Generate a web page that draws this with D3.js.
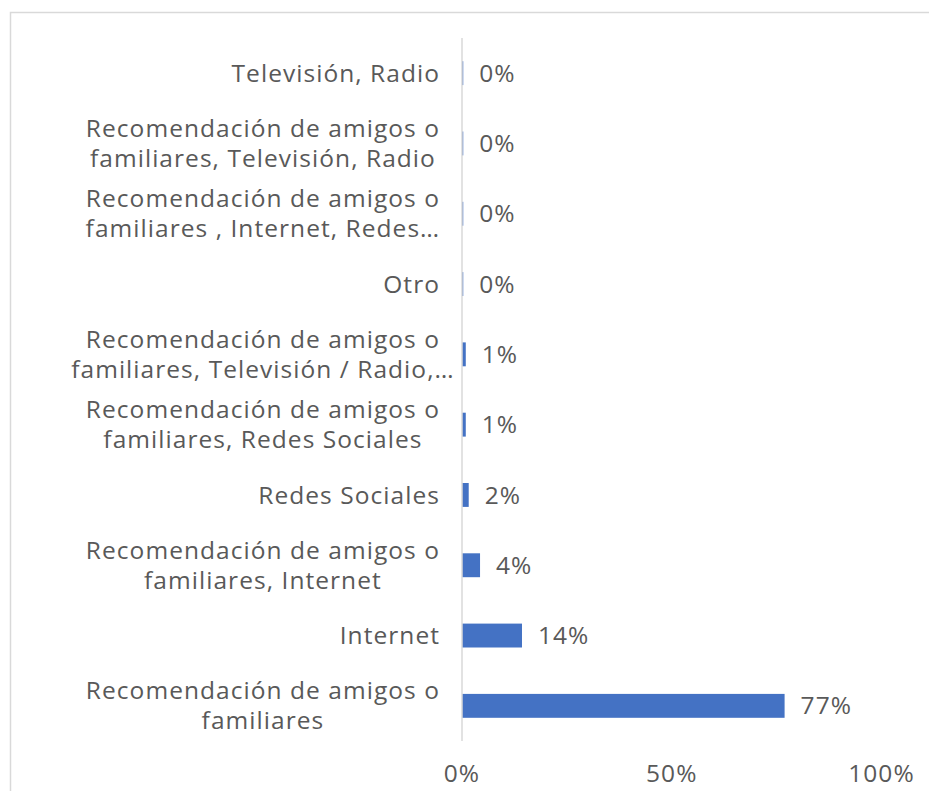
<!DOCTYPE html>
<html>
<head>
<meta charset="utf-8">
<script src="https://cdn.jsdelivr.net/npm/d3@7"></script>
<style>
  html, body { margin: 0; padding: 0; background: #ffffff; }
  svg { display: block; }
  text { font-family: "Open Sans", "Noto Sans", sans-serif; fill: #595959; letter-spacing: 1.05px; }
</style>
</head>
<body>
<svg id="chart" width="929" height="791"></svg>
<script>
// Categories, top to bottom, each split into its wrapped lines
const categories = [
  ["Televisión, Radio"],
  ["Recomendación de amigos o", "familiares, Televisión, Radio"],
  ["Recomendación de amigos o", "familiares , Internet, Redes…"],
  ["Otro"],
  ["Recomendación de amigos o", "familiares, Televisión / Radio,…"],
  ["Recomendación de amigos o", "familiares, Redes Sociales"],
  ["Redes Sociales"],
  ["Recomendación de amigos o", "familiares, Internet"],
  ["Internet"],
  ["Recomendación de amigos o", "familiares"]
];
// Share of respondents per category
const values = [0.003, 0.003, 0.003, 0.003, 0.009, 0.009, 0.016, 0.043, 0.143, 0.769];
const tickValues = [0, 0.5, 1];

const svg = d3.select("#chart");
const fontSize = 24.5;
const lineGap = 30;

// Outer frame
svg.append("rect")
  .attr("x", 10.5).attr("y", 12.5)
  .attr("width", 940).attr("height", 800)
  .attr("fill", "none").attr("stroke", "#d9d9d9").attr("stroke-width", 1.5);

const x = d3.scaleLinear().domain([0, 1]).range([462, 881.5]);
const y = d3.scaleBand().domain(d3.range(categories.length)).range([38, 741]).paddingInner(0.66).paddingOuter(0.33);

// Bars
svg.append("g").selectAll("rect")
  .data(values)
  .join("rect")
  .attr("x", x(0))
  .attr("y", (d, i) => y(i))
  .attr("width", d => x(d) - x(0))
  .attr("height", y.bandwidth())
  .attr("fill", "#4472c4");

// Vertical category axis line
svg.append("line")
  .attr("x1", x(0)).attr("x2", x(0))
  .attr("y1", 38).attr("y2", 741)
  .attr("stroke", "#d9d9d9").attr("stroke-width", 1.5);

// Value labels
svg.append("g").selectAll("text")
  .data(values)
  .join("text")
  .attr("x", d => x(d) + 16)
  .attr("y", (d, i) => y(i) + y.bandwidth() / 2)
  .attr("dy", "0.35em")
  .attr("font-size", fontSize)
  .text(d => d3.format(".0%")(d));

// Category labels: single lines right-aligned, wrapped lines centred on the first line
const labelRight = 440;
const catG = svg.append("g");
categories.forEach((lines, i) => {
  const cy = y(i) + y.bandwidth() / 2;
  if (lines.length === 1) {
    catG.append("text")
      .attr("x", labelRight).attr("y", cy).attr("dy", "0.35em")
      .attr("text-anchor", "end").attr("font-size", fontSize)
      .text(lines[0]);
  } else {
    const t = catG.append("text").attr("font-size", fontSize).attr("text-anchor", "middle");
    const probe = t.append("tspan").text(lines[0]);
    const w = probe.node().getComputedTextLength();
    probe.remove();
    const cx = labelRight - w / 2;
    lines.forEach((ln, k) => {
      t.append("tspan")
        .attr("x", cx)
        .attr("y", cy + (k - (lines.length - 1) / 2) * lineGap)
        .attr("dy", "0.35em")
        .text(ln);
    });
  }
});

// Horizontal value axis labels
svg.append("g").selectAll("text")
  .data(tickValues)
  .join("text")
  .attr("x", d => x(d))
  .attr("y", 773)
  .attr("dy", "0.35em")
  .attr("text-anchor", "middle")
  .attr("font-size", fontSize)
  .text(d => d3.format(".0%")(d));
</script>
</body>
</html>
